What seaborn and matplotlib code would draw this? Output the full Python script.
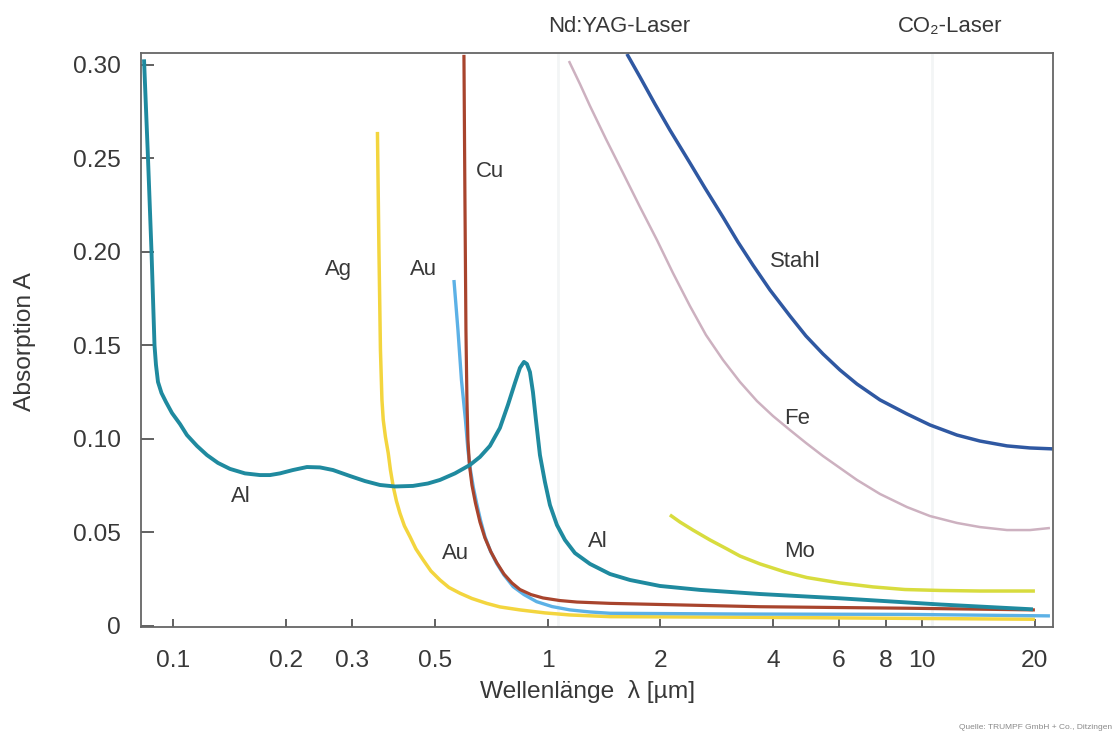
import matplotlib
matplotlib.use("Agg")
import matplotlib.pyplot as plt
from matplotlib import font_manager
from matplotlib.ticker import FixedLocator, FixedFormatter, NullLocator
import pandas as pd
import seaborn as sns

# ---------------- data ----------------
al_x = [0.08370, 0.08578, 0.08765, 0.08928, 0.09009, 0.09121, 0.09319, 0.09579, 0.09939,
        0.10442, 0.10897, 0.11590, 0.12324, 0.13186, 0.14199, 0.15569, 0.17072, 0.18154,
        0.19301, 0.20908, 0.22786, 0.24684, 0.26739, 0.29683, 0.32551, 0.35692, 0.39136,
        0.43713, 0.47931, 0.51617, 0.56598, 0.62061, 0.66004, 0.70175, 0.74622, 0.78386,
        0.81826, 0.84393, 0.86497, 0.88106, 0.89746, 0.91417, 0.93118, 0.95436, 0.98415,
        1.01487, 1.05948, 1.11290, 1.18351, 1.29786, 1.46767, 1.65950, 1.99549, 2.55225,
        3.68978, 6.03386, 11.1572, 19.7601]
al_a = [0.303, 0.250, 0.200, 0.150, 0.1396, 0.1305, 0.1246, 0.1198, 0.1139,
        0.1080, 0.1021, 0.0963, 0.0914, 0.0872, 0.0840, 0.0816, 0.0807, 0.0807,
        0.0816, 0.0834, 0.0850, 0.0848, 0.0834, 0.0802, 0.0775, 0.0754, 0.0746,
        0.0749, 0.0762, 0.0781, 0.0816, 0.0861, 0.0904, 0.0963, 0.1059, 0.1182,
        0.1299, 0.1380, 0.1412, 0.1401, 0.1358, 0.1251, 0.1102, 0.0914, 0.0770,
        0.0647, 0.0540, 0.0460, 0.0390, 0.0332, 0.0278, 0.0246, 0.0214, 0.0193,
        0.0171, 0.0148, 0.0115, 0.0089]

ag_x = [0.35148, 0.35473, 0.35802, 0.36134, 0.36424, 0.36919, 0.37561, 0.38072, 0.38732,
        0.39502, 0.40361, 0.41493, 0.42919, 0.44526, 0.46570, 0.48824, 0.51617, 0.54549,
        0.58384, 0.62826, 0.68770, 0.74622, 0.84393, 0.98415, 1.14770, 1.46767, 3.2636,
        20.005]
ag_a = [0.2642, 0.2011, 0.1476, 0.1209, 0.1102, 0.1011, 0.0924, 0.0834, 0.0745,
        0.0668, 0.0603, 0.0535, 0.0478, 0.0412, 0.0353, 0.0294, 0.0246, 0.0206,
        0.0175, 0.0147, 0.0121, 0.0102, 0.0086, 0.0070, 0.0059, 0.0050, 0.0047,
        0.0036]

au_x = [0.56251, 0.57651, 0.58906, 0.60369, 0.61305, 0.62253, 0.63412, 0.64672, 0.66208,
        0.68055, 0.70390, 0.73131, 0.76485, 0.80986, 0.86497, 0.93522, 1.02742, 1.14770,
        1.29786, 1.46767, 3.2636, 9.1075, 21.939]
au_a = [0.1850, 0.1583, 0.1316, 0.1102, 0.0941, 0.0834, 0.0738, 0.0656, 0.0567,
        0.0478, 0.0401, 0.0335, 0.0273, 0.0210, 0.0168, 0.0130, 0.0104, 0.0086,
        0.0075, 0.0068, 0.0064, 0.0062, 0.0054]

cu_x = [0.59815, 0.60184, 0.60555, 0.60928, 0.61305, 0.61873, 0.62826, 0.64197, 0.66004,
        0.68055, 0.70623, 0.73266, 0.76485, 0.80344, 0.84393, 0.90299, 0.97212, 1.07920,
        1.19816, 1.46767, 3.68978, 9.1075, 20.005]
cu_a = [0.3054, 0.2278, 0.1583, 0.1209, 0.0995, 0.0861, 0.0754, 0.0658, 0.0556,
        0.0471, 0.0396, 0.0337, 0.0278, 0.0230, 0.0195, 0.0168, 0.0150, 0.0136,
        0.0128, 0.0121, 0.0103, 0.0095, 0.0086]

mo_x = [2.1218, 2.2567, 2.4443, 2.7143, 3.0123, 3.2636, 3.6898, 4.3025, 4.9257, 6.0339,
        7.3918, 8.9961, 11.1572, 14.2658, 20.005]
mo_a = [0.0594, 0.0556, 0.0513, 0.0460, 0.0412, 0.0374, 0.0332, 0.0289, 0.0259, 0.0230,
        0.0209, 0.0195, 0.0190, 0.0187, 0.0187]

stahl_x = [1.6290, 1.7648, 1.9352, 2.1218, 2.3997, 2.6321, 2.9392, 3.2238, 3.5344, 3.9245,
           4.4367, 4.8955, 5.4352, 6.0339, 6.6985, 7.7172, 9.1075, 10.4912, 12.3865,
           14.2658, 16.8429, 19.4042, 22.3488]
stahl_a = [0.3059, 0.2936, 0.2791, 0.2652, 0.2476, 0.2342, 0.2187, 0.2053, 0.1930, 0.1797,
           0.1658, 0.1551, 0.1455, 0.1369, 0.1294, 0.1209, 0.1134, 0.1075, 0.1021,
           0.0989, 0.0963, 0.0952, 0.0947]

fe_x = [1.1406, 1.2206, 1.2979, 1.4320, 1.5898, 1.7648, 1.9592, 2.1613, 2.3997, 2.6483,
        2.9392, 3.2636, 3.6224, 3.9975, 4.4367, 4.8955, 5.4352, 6.0339, 6.6985, 7.7172,
        9.1075, 10.4912, 12.3865, 14.2658, 16.8429, 19.4042, 21.939]
fe_a = [0.3021, 0.2898, 0.2781, 0.2604, 0.2423, 0.2241, 0.2064, 0.1888, 0.1711, 0.1556,
        0.1423, 0.1305, 0.1203, 0.1123, 0.1048, 0.0979, 0.0909, 0.0845, 0.0781, 0.0706,
        0.0636, 0.0588, 0.0551, 0.0529, 0.0513, 0.0513, 0.0524]

x_ticks = [0.1, 0.2, 0.3, 0.5, 1, 2, 4, 6, 8, 10, 20]
x_tick_labels = ["0.1", "0.2", "0.3", "0.5", "1", "2", "4", "6", "8", "10", "20"]
y_ticks = [0, 0.05, 0.10, 0.15, 0.20, 0.25, 0.30]
y_tick_labels = ["0", "0.05", "0.10", "0.15", "0.20", "0.25", "0.30"]

curve_labels = ["Al", "Ag", "Au", "Cu", "Au", "Al", "Stahl", "Fe", "Mo"]
curve_label_x = [0.1519, 0.2762, 0.4677, 0.7018, 0.5661, 1.366, 4.575, 4.624, 4.718]
curve_label_a = [0.069, 0.1904, 0.1904, 0.2428, 0.0389, 0.0451, 0.1948, 0.1111, 0.0397]

laser_names = ["Nd:YAG-Laser", "CO₂-Laser"]
laser_label_x = [1.551, 11.87]
laser_lines_x = [1.064, 10.6]

# ---------------- style ----------------
sns.set_theme(style="white")
avail = {f.name for f in font_manager.fontManager.ttflist}
if "Liberation Sans Narrow" in avail:
    fam, k = "Liberation Sans Narrow", 1.0
else:
    fam, k = "Liberation Sans", 0.84
plt.rcParams["font.family"] = [fam, "DejaVu Sans"]
plt.rcParams["lines.solid_joinstyle"] = "round"
plt.rcParams["lines.solid_capstyle"] = "butt"

TXT = "#383838"

fig = plt.figure(figsize=(11.2, 7.39), dpi=100)
fig.patch.set_facecolor("white")
ax = fig.add_axes([0.1256, 0.1509, 0.8148, 0.7774])

for xv in laser_lines_x:
    ax.axvline(xv, color="#f3f5f6", lw=2.0, zorder=0)

series = [
    ("Fe", fe_x, fe_a, "#cdb1c0", 1.8),
    ("Stahl", stahl_x, stahl_a, "#2f58a2", 2.5),
    ("Mo", mo_x, mo_a, "#d8dc3e", 2.5),
    ("Ag", ag_x, ag_a, "#f3d53e", 2.5),
    ("Au", au_x, au_a, "#5cb1e6", 2.4),
    ("Cu", cu_x, cu_a, "#a8442d", 2.3),
    ("Al", al_x, al_a, "#1f8a9f", 2.8),
]
for name, xs, ys, col, lw in series:
    df = pd.DataFrame({"Wellenlänge": xs, "Absorption": ys})
    sns.lineplot(data=df, x="Wellenlänge", y="Absorption", ax=ax, color=col,
                 linewidth=lw, estimator=None, sort=False, legend=False)

ax.set_xscale("log")
ax.set_xlim(0.0820, 22.39)
ax.set_ylim(-0.0008, 0.3064)

ax.xaxis.set_major_locator(FixedLocator(x_ticks))
ax.xaxis.set_major_formatter(FixedFormatter(x_tick_labels))
ax.xaxis.set_minor_locator(NullLocator())
ax.yaxis.set_major_locator(FixedLocator(y_ticks))
ax.yaxis.set_major_formatter(FixedFormatter(y_tick_labels))

ax.tick_params(axis="both", which="major", direction="in", color="#555555",
               width=1.3, labelsize=21 * k, labelcolor=TXT)
ax.tick_params(axis="y", length=9, pad=14, left=True)
ax.tick_params(axis="x", length=6, pad=16, bottom=True)

for sp in ax.spines.values():
    sp.set_visible(True)
    sp.set_color("#666666")
    sp.set_linewidth(1.3)

ax.set_xlabel("Wellenlänge  λ [µm]", fontsize=21 * k, color=TXT)
ax.set_ylabel("Absorption A", fontsize=21 * k, color=TXT)
ax.xaxis.set_label_coords(0.490, -0.111)
ax.xaxis.label.set_verticalalignment("center")
ax.yaxis.set_label_coords(-0.127, 0.497)
ax.yaxis.label.set_verticalalignment("center")

for lab, lx, la in zip(curve_labels, curve_label_x, curve_label_a):
    ax.text(lx, la, lab, ha="center", va="center", fontsize=19 * k, color=TXT)

for name, lx in zip(laser_names, laser_label_x):
    ax.text(lx, 1.0453, name, transform=ax.get_xaxis_transform(), ha="center",
            va="center", fontsize=19 * k, color=TXT, clip_on=False)

fig.text(0.993, 0.015, "Quelle: TRUMPF GmbH + Co., Ditzingen", ha="right", va="center",
         fontsize=6, color="#8a8a8a")

fig.savefig("out.png", dpi=100, facecolor="white")
